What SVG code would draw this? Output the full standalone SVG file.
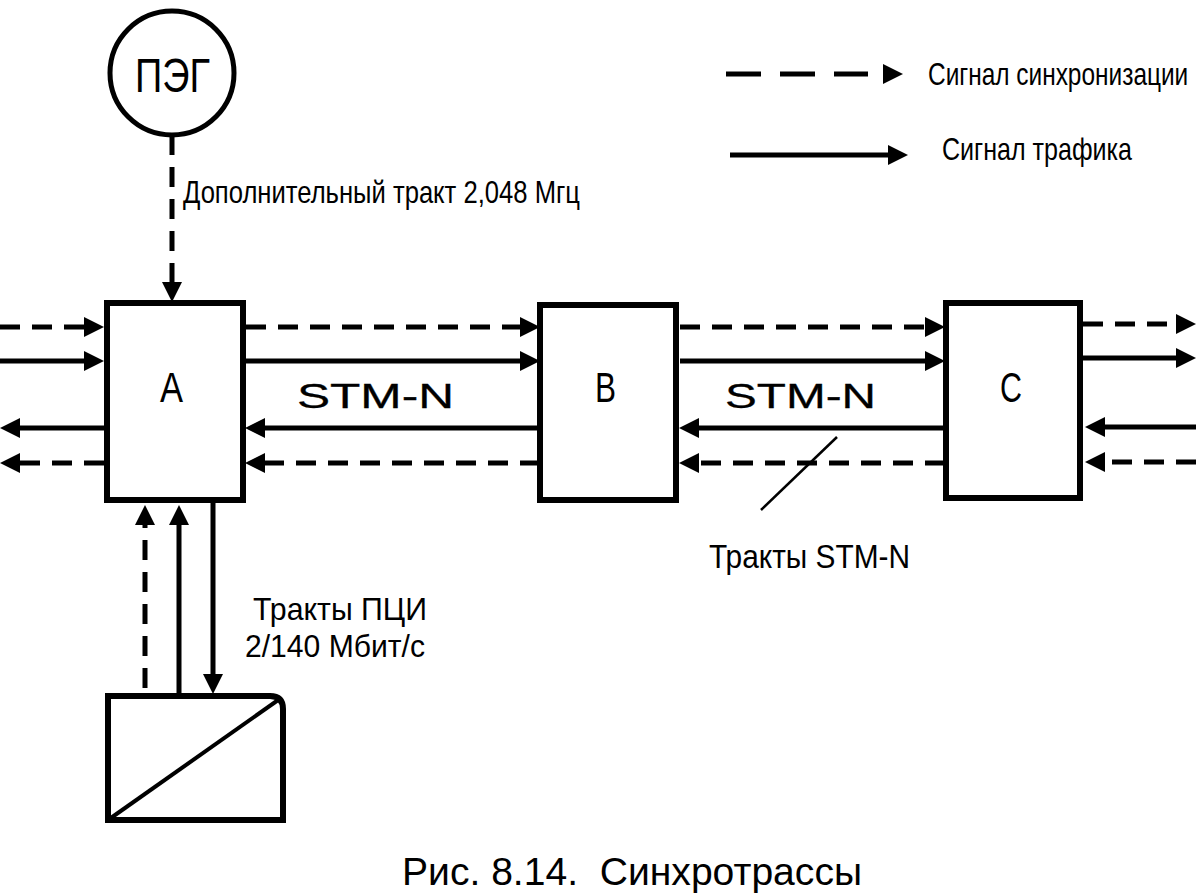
<svg xmlns="http://www.w3.org/2000/svg" width="1199" height="893" viewBox="0 0 1199 893">
<style>
.t{font-family:"Liberation Sans",Arial,sans-serif;fill:#000}
.box{fill:#fff;stroke:#000;stroke-width:6}
.s{stroke:#000;stroke-width:5;fill:none}
.d{stroke:#000;stroke-width:5;fill:none;stroke-dasharray:20 12}
.dl{stroke:#000;stroke-width:5;fill:none;stroke-dasharray:35 19}
</style>
<rect width="1199" height="893" fill="#fff"/>

<g id="connectors">
<!-- PEG to A -->
<line class="d" x1="172" y1="135" x2="172" y2="285"/>
<path d="M162,282 L172,302 L182,282 z"/>
<!-- left inputs to A -->
<line class="d" x1="0" y1="327" x2="90" y2="327"/>
<path d="M84,317 L104,327 L84,337 z"/>
<line class="s" x1="0" y1="361" x2="90" y2="361"/>
<path d="M84,351 L104,361 L84,371 z"/>
<!-- A outputs to left -->
<line class="s" x1="104" y1="428" x2="12" y2="428"/>
<path d="M20,418 L0,428 L20,438 z"/>
<line class="d" x1="104" y1="463" x2="12" y2="463"/>
<path d="M20,453 L0,463 L20,473 z"/>
<!-- A to B -->
<line class="d" x1="246" y1="327" x2="526" y2="327"/>
<path d="M520,317 L540,327 L520,337 z"/>
<line class="s" x1="246" y1="361" x2="526" y2="361"/>
<path d="M520,351 L540,361 L520,371 z"/>
<!-- B to A -->
<line class="s" x1="540" y1="428" x2="258" y2="428"/>
<path d="M265,418 L245,428 L265,438 z"/>
<line class="d" x1="540" y1="463" x2="258" y2="463"/>
<path d="M265,453 L245,463 L265,473 z"/>
<!-- B to C -->
<line class="d" x1="680" y1="327" x2="931" y2="327"/>
<path d="M925,317 L945,327 L925,337 z"/>
<line class="s" x1="680" y1="361" x2="931" y2="361"/>
<path d="M925,351 L945,361 L925,371 z"/>
<!-- C to B -->
<line class="s" x1="945" y1="428" x2="692" y2="428"/>
<path d="M699,418 L679,428 L699,438 z"/>
<line class="d" x1="945" y1="463" x2="692" y2="463"/>
<path d="M699,453 L679,463 L699,473 z"/>
<!-- C outputs right -->
<line class="d" x1="1083" y1="324" x2="1182" y2="324"/>
<path d="M1176,314 L1196,324 L1176,334 z"/>
<line class="s" x1="1083" y1="358" x2="1182" y2="358"/>
<path d="M1176,348 L1196,358 L1176,368 z"/>
<!-- C inputs from right -->
<line class="s" x1="1196" y1="427" x2="1098" y2="427"/>
<path d="M1105,417 L1085,427 L1105,437 z"/>
<line class="d" x1="1196" y1="462" x2="1098" y2="462"/>
<path d="M1105,452 L1085,462 L1105,472 z"/>
<!-- Bottom box to A and back -->
<line class="d" x1="145" y1="688" x2="145" y2="518"/>
<path d="M135,525 L145,505 L155,525 z"/>
<line class="s" x1="179" y1="696" x2="179" y2="518"/>
<path d="M169,525 L179,505 L189,525 z"/>
<line class="s" x1="213" y1="503" x2="213" y2="681"/>
<path d="M203,674 L213,694 L223,674 z"/>
<!-- slash -->
<line x1="837" y1="437" x2="761" y2="510" stroke="#000" stroke-width="2.5"/>
</g>

<g id="node-peg">
<circle cx="172" cy="73" r="62" fill="#fff" stroke="#000" stroke-width="5"/>
<text class="t" x="135" y="92" font-size="48" textLength="75" lengthAdjust="spacingAndGlyphs">ПЭГ</text>
</g>

<g id="node-a">
<rect class="box" x="107" y="303" width="136" height="197"/>
<text class="t" x="160" y="402" font-size="42" textLength="23" lengthAdjust="spacingAndGlyphs">A</text>
</g>

<g id="node-b">
<rect class="box" x="540" y="305" width="136" height="195"/>
<text class="t" x="595" y="402" font-size="42" textLength="21" lengthAdjust="spacingAndGlyphs">B</text>
</g>

<g id="node-c">
<rect class="box" x="946" y="303" width="134" height="195"/>
<text class="t" x="1000" y="402" font-size="42" textLength="22" lengthAdjust="spacingAndGlyphs">C</text>
</g>

<g id="node-mux">
<path d="M108,696 H270 Q283,696 283,709 V820 H108 Z" fill="#fff" stroke="#000" stroke-width="6"/>
<line x1="108" y1="820" x2="281" y2="698" stroke="#000" stroke-width="4"/>
</g>

<g id="labels">
<text class="t" x="183" y="203" font-size="32" textLength="397" lengthAdjust="spacingAndGlyphs">Дополнительный тракт 2,048 Мгц</text>
<text class="t" x="297" y="408" font-size="35" textLength="157" lengthAdjust="spacingAndGlyphs" stroke="#000" stroke-width="0.3">STM-N</text>
<text class="t" x="725" y="408" font-size="35" textLength="151" lengthAdjust="spacingAndGlyphs" stroke="#000" stroke-width="0.3">STM-N</text>
<text class="t" x="709" y="568" font-size="33" textLength="201" lengthAdjust="spacingAndGlyphs">Тракты STM-N</text>
<text class="t" x="253" y="620" font-size="32" textLength="174" lengthAdjust="spacingAndGlyphs">Тракты ПЦИ</text>
<text class="t" x="245" y="657" font-size="32" textLength="180" lengthAdjust="spacingAndGlyphs">2/140 Мбит/с</text>
<text class="t" x="402" y="885" font-size="38" textLength="460" lengthAdjust="spacingAndGlyphs">Рис. 8.14.&#160; Синхротрассы</text>
</g>

<g id="legend">
<line class="dl" x1="726" y1="74" x2="868" y2="74"/>
<path d="M883,64 L903,74 L883,84 z"/>
<line class="s" x1="730" y1="155" x2="892" y2="155"/>
<path d="M888,145 L908,155 L888,165 z"/>
<text class="t" transform="translate(928,85) scale(0.75,1)" x="0" y="0" font-size="32" textLength="347" lengthAdjust="spacingAndGlyphs">Сигнал синхронизации</text>
<text class="t" x="942" y="160" font-size="32" textLength="190" lengthAdjust="spacingAndGlyphs">Сигнал трафика</text>
</g>
</svg>
